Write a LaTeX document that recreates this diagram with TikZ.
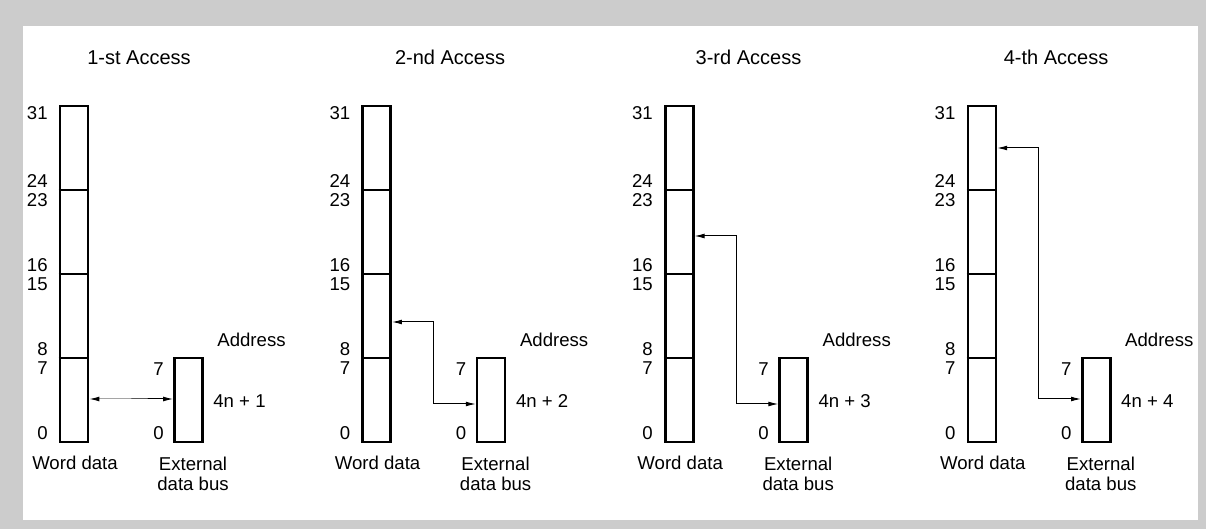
\documentclass[tikz,border=0pt]{standalone}
\usepackage{fontspec}
\setmainfont{Liberation Sans}
\usepackage{xcolor}
\usetikzlibrary{arrows.meta, positioning, calc}
\definecolor{framegray}{RGB}{204,204,204}
\tikzset{
  wordbox/.style={
    rectangle, draw, line width=1.3pt, minimum width=14pt,
    minimum height=168pt, inner sep=0pt
  },
  busbox/.style={
    rectangle, draw, line width=1.3pt, minimum width=14pt,
    minimum height=42pt, inner sep=0pt
  },
  divider/.style={line width=1.3pt},
  bitlabel/.style={inner sep=0pt, font=\fontsize{9.3}{11}\selectfont},
  caption/.style={inner sep=0pt, font=\fontsize{9.3}{9.6}\selectfont, align=center},
  heading/.style={inner sep=0pt, font=\fontsize{10}{12}\selectfont},
  link/.style={
    {Latex[length=5pt,width=2.4pt]}-{Latex[length=5pt,width=2.4pt]},
    line width=0.5pt
  }
}

\begin{document}
\begin{tikzpicture}[x=0.5pt, y=-0.5pt]
  \fill[framegray] (0,0) rectangle (1206,529);
  \fill[white] (22.7,26) rectangle (1197.7,519.5);

  \foreach \i/\ord/\tx/\wy/\by in
    {1/st/139/399/399, 2/nd/147.5/322/404, 3/rd/143.3/236/404, 4/th/148.3/148/399}{
    \pgfmathsetmacro{\off}{(\i-1)*151.3}
    \begin{scope}[xshift=\off pt]
      \node[heading, anchor=base] (title\i) at (\tx,65) {\i-\ord\ Access};

      % word data register
      \node[wordbox] (w\i) at (74,274) {};
      \foreach \y/\hi/\lo in {190/24/23, 274/16/15, 358/8/7}{
        \draw[divider] (w\i.west |- 0,\y) -- (w\i.east |- 0,\y);
        \node[bitlabel, anchor=south east] (hi\i-\hi) at (48,\y-2) {\hi};
        \node[bitlabel, anchor=north east] (lo\i-\lo) at (48,\y+3) {\lo};
      }
      \node[bitlabel, anchor=north east] (top\i) at (48,106) {31};
      \node[bitlabel, anchor=south east] (bot\i) at (48,440) {0};
      \node[caption, anchor=base] (wlab\i) at (75,469) {Word data};

      % external data bus
      \node[busbox] (b\i) at (188.5,400) {};
      \node[bitlabel, anchor=north east] (btop\i) at (164,362) {7};
      \node[bitlabel, anchor=south east] (bbot\i) at (164,440) {0};
      \node[bitlabel, anchor=base west] (addr\i) at (217,347) {Address};
      \node[bitlabel, anchor=west] (val\i) at (213,401) {4n + \i};
      \node[caption, anchor=north] (blab\i) at (193,457) {External\\data bus};

      \draw[link] (w\i.east |- 0,\wy) -| (131,\by) -- (b\i.west |- 0,\by);
    \end{scope}
  }
\end{tikzpicture}
\end{document}
